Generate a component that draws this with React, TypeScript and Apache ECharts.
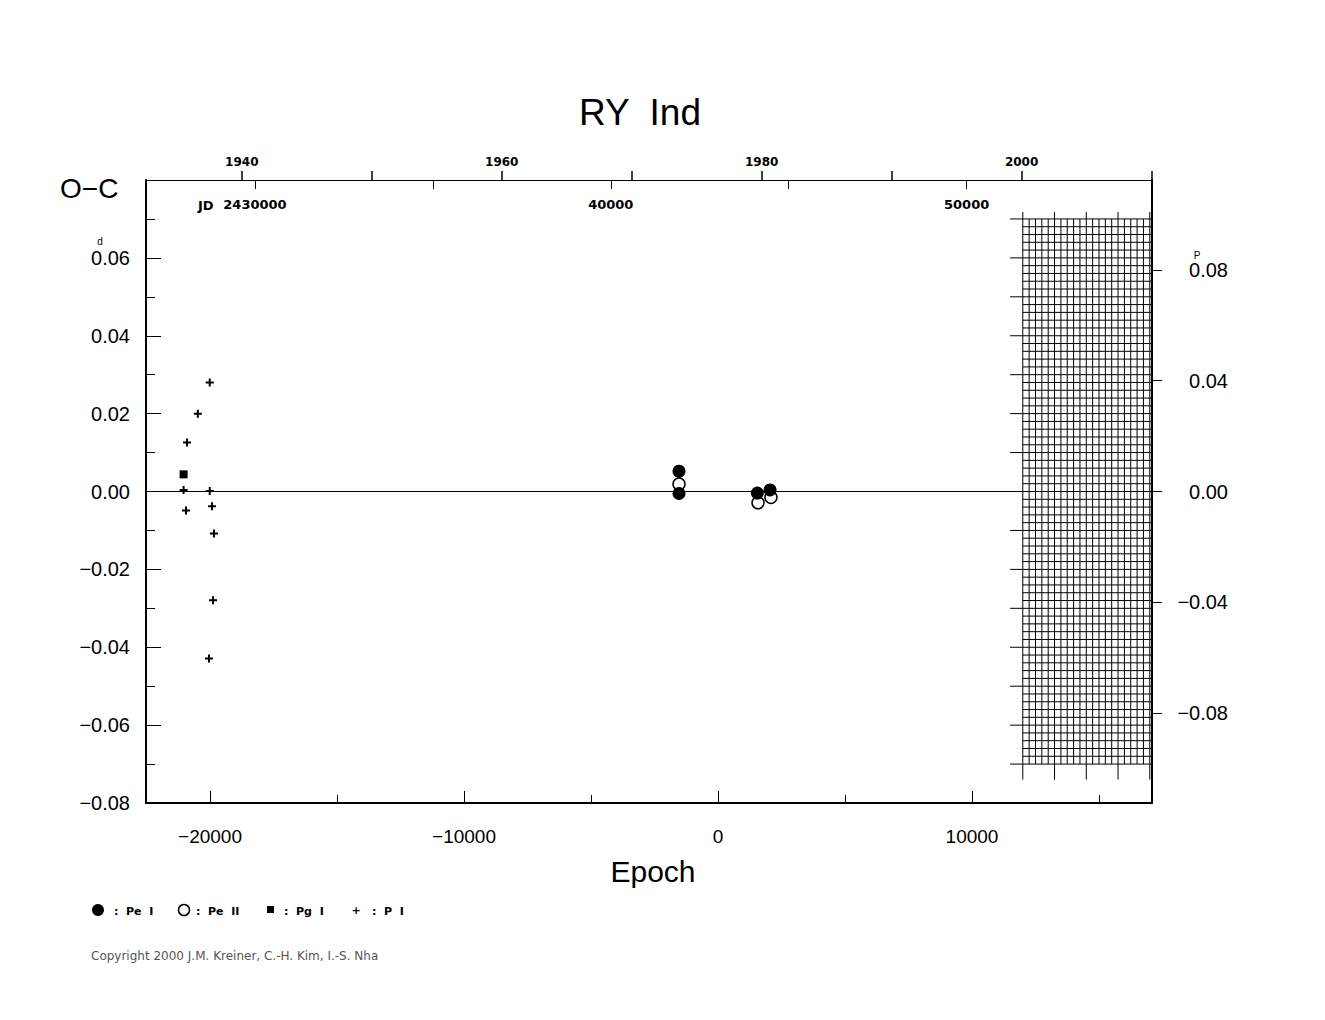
import React, { useEffect, useRef } from "react";
import * as echarts from "echarts";

// ---- axis ranges ----
const X_MIN = -22520;
const X_MAX = 17087;
const Y_MIN = -0.08;
const Y_MAX = 0.08;
const PHASE_MIN = -0.1124;
const PHASE_MAX = 0.1124;
const JD_MIN = 2426938;
const JD_MAX = 2455210;

// ---- ticks & labels ----
const EPOCH_MAJOR = [-20000, -10000, 0, 10000];
const EPOCH_MINOR = [-15000, -5000, 5000, 15000];
const OC_MAJOR = [-0.08, -0.06, -0.04, -0.02, 0, 0.02, 0.04, 0.06, 0.08];
const OC_LABELS = [-0.08, -0.06, -0.04, -0.02, 0, 0.02, 0.04, 0.06];
const OC_MINOR = [-0.07, -0.05, -0.03, -0.01, 0.01, 0.03, 0.05, 0.07];
const PHASE_TICKS = [-0.08, -0.04, 0, 0.04, 0.08];
const YEAR_TICKS = [1940, 1950, 1960, 1970, 1980, 1990, 2000, 2010];
const YEAR_LABELS = [1940, 1960, 1980, 2000];
const JD_TICKS = [2430000, 2435000, 2440000, 2445000, 2450000];
const JD_LABELS = [2430000, 2440000, 2450000];

// ---- data (epoch, O-C in days) ----
const PE_I = [
  [-1535, 0.0052],
  [-1535, -0.0005],
  [1550, -0.0004],
  [2050, 0.0004],
];
const PE_II = [
  [-1535, 0.0019],
  [1575, -0.0029],
  [2085, -0.0015],
];
const PG_I = [[-21040, 0.0044]];
const P_I = [
  [-20010, 0.028],
  [-20480, 0.02],
  [-20905, 0.0126],
  [-21040, 0.0004],
  [-20010, 0.0001],
  [-19920, -0.0038],
  [-20945, -0.0049],
  [-19845, -0.0108],
  [-19880, -0.0279],
  [-20040, -0.0429],
];
const ZERO_LINE = [
  [X_MIN, 0],
  [11500, 0],
];

// ---- hatched region (epoch / O-C) ----
const HATCH_X0 = 12000;
const HATCH_X1 = 17000;
const HATCH_DX = 250;
const HATCH_Y0 = -0.07;
const HATCH_Y1 = 0.07;
const HATCH_DY = 0.002;

const yearToJD = (y: number) => 2415020.5 + (y - 1900) * 365.25;
const jdToYear = (jd: number) => Math.round((jd - 2415020.5) / 365.25 + 1900);
const fmtSigned = (v: number, d: number) =>
  (v < -1e-9 ? "\u2212" : "") + Math.abs(v).toFixed(d);

const NUM_FONT = "Liberation Sans, Arial, sans-serif";
const BOLD_FONT = "DejaVu Sans, sans-serif";

export default function App() {
  const ref = useRef<HTMLDivElement>(null);
  useEffect(() => {
    if (!ref.current) return;
    const chart = echarts.init(ref.current, null, { renderer: "svg" });

    const hatchRender = (_params: any, api: any) => {
      const children: any[] = [];
      const nx = Math.round((HATCH_X1 - HATCH_X0) / HATCH_DX);
      const ny = Math.round((HATCH_Y1 - HATCH_Y0) / HATCH_DY);
      const ln = (a: number[], b: number[]) => ({
        type: "line",
        shape: { x1: a[0], y1: a[1], x2: b[0], y2: b[1] },
        style: { stroke: "#000", lineWidth: 1 },
      });
      for (let i = 0; i <= nx; i++) {
        const e = HATCH_X0 + i * HATCH_DX;
        const long = i % 5 === 0;
        const top = api.coord([e, HATCH_Y1 + (long ? 0.0018 : 0)]);
        const bot = api.coord([e, HATCH_Y0 - (long ? 0.004 : 0)]);
        children.push(ln(top, bot));
      }
      for (let j = 0; j <= ny; j++) {
        const v = HATCH_Y0 + j * HATCH_DY;
        const ext = j % 5 === 0;
        const l = api.coord([ext ? 11500 : HATCH_X0, v]);
        const r = api.coord([X_MAX, v]);
        children.push(ln(l, r));
      }
      return { type: "group", children };
    };

    const option: any = {
      animation: false,
      backgroundColor: "#fff",
      grid: {
        left: 146,
        top: 180,
        width: 1006,
        height: 623,
        containLabel: false,
        outerBoundsMode: "none",
      },
      xAxis: [
        {
          type: "value",
          position: "bottom",
          min: X_MIN,
          max: X_MAX,
          axisLine: { show: true, onZero: false, lineStyle: { color: "#000", width: 2 } },
          axisTick: {
            show: true,
            inside: true,
            length: 12,
            customValues: EPOCH_MAJOR,
            lineStyle: { color: "#000", width: 1 },
          },
          axisLabel: {
            show: true,
            customValues: EPOCH_MAJOR,
            formatter: (v: number) => fmtSigned(v, 0),
            margin: 24,
            color: "#000",
            fontSize: 19,
            fontFamily: NUM_FONT,
          },
          splitLine: { show: false },
        },
        {
          type: "value",
          position: "bottom",
          min: X_MIN,
          max: X_MAX,
          axisLine: { show: false, onZero: false },
          axisTick: {
            show: true,
            inside: true,
            length: 8,
            customValues: EPOCH_MINOR,
            lineStyle: { color: "#000", width: 1 },
          },
          axisLabel: { show: false },
          splitLine: { show: false },
        },
        {
          type: "value",
          position: "top",
          min: JD_MIN,
          max: JD_MAX,
          axisLine: { show: true, onZero: false, lineStyle: { color: "#000", width: 1 } },
          axisTick: {
            show: true,
            inside: false,
            length: 9,
            customValues: YEAR_TICKS.map(yearToJD),
            lineStyle: { color: "#000", width: 1.5 },
          },
          axisLabel: {
            show: true,
            customValues: YEAR_LABELS.map(yearToJD),
            formatter: (v: number) => String(jdToYear(v)),
            margin: 12,
            color: "#000",
            fontSize: 12,
            fontWeight: "bold",
            fontFamily: BOLD_FONT,
          },
          splitLine: { show: false },
        },
        {
          type: "value",
          position: "top",
          min: JD_MIN,
          max: JD_MAX,
          axisLine: { show: false, onZero: false },
          axisTick: {
            show: true,
            inside: true,
            length: 9,
            customValues: JD_TICKS,
            lineStyle: { color: "#000", width: 1 },
          },
          axisLabel: {
            show: true,
            inside: true,
            customValues: JD_LABELS,
            formatter: (v: number) => (v === 2430000 ? "2430000" : String(v - 2400000)),
            margin: 18,
            color: "#000",
            fontSize: 13,
            fontWeight: "bold",
            fontFamily: BOLD_FONT,
          },
          splitLine: { show: false },
        },
      ],
      yAxis: [
        {
          type: "value",
          position: "left",
          min: Y_MIN,
          max: Y_MAX,
          axisLine: { show: true, onZero: false, lineStyle: { color: "#000", width: 2 } },
          axisTick: {
            show: true,
            inside: true,
            length: 15,
            customValues: OC_MAJOR,
            lineStyle: { color: "#000", width: 1 },
          },
          axisLabel: {
            show: true,
            customValues: OC_LABELS,
            formatter: (v: number) => fmtSigned(v, 2),
            margin: 16,
            color: "#000",
            fontSize: 20,
            fontFamily: NUM_FONT,
          },
          splitLine: { show: false },
        },
        {
          type: "value",
          position: "left",
          min: Y_MIN,
          max: Y_MAX,
          axisLine: { show: false, onZero: false },
          axisTick: {
            show: true,
            inside: true,
            length: 9,
            customValues: OC_MINOR,
            lineStyle: { color: "#000", width: 1 },
          },
          axisLabel: { show: false },
          splitLine: { show: false },
        },
        {
          type: "value",
          position: "right",
          min: PHASE_MIN,
          max: PHASE_MAX,
          axisLine: { show: true, onZero: false, lineStyle: { color: "#000", width: 2 } },
          axisTick: {
            show: true,
            inside: false,
            length: 10,
            customValues: PHASE_TICKS,
            lineStyle: { color: "#000", width: 1 },
          },
          axisLabel: {
            show: true,
            customValues: PHASE_TICKS,
            formatter: (v: number) => fmtSigned(v, 2),
            margin: 76,
            align: "right",
            color: "#000",
            fontSize: 20,
            fontFamily: NUM_FONT,
          },
          splitLine: { show: false },
        },
      ],
      series: [
        {
          type: "custom",
          name: "hatch",
          xAxisIndex: 0,
          yAxisIndex: 0,
          data: [[HATCH_X0, HATCH_Y0]],
          renderItem: hatchRender,
          clip: false,
          silent: true,
          z: 1,
        },
        {
          type: "line",
          name: "zero",
          xAxisIndex: 0,
          yAxisIndex: 0,
          data: ZERO_LINE,
          symbol: "none",
          lineStyle: { color: "#000", width: 1 },
          silent: true,
          z: 2,
        },
        {
          type: "scatter",
          name: "Pe II",
          xAxisIndex: 0,
          yAxisIndex: 0,
          data: PE_II,
          symbol: "circle",
          symbolSize: 12,
          itemStyle: { color: "#fff", borderColor: "#000", borderWidth: 1.5, opacity: 1 },
          z: 3,
        },
        {
          type: "scatter",
          name: "Pe I",
          xAxisIndex: 0,
          yAxisIndex: 0,
          data: PE_I,
          symbol: "circle",
          symbolSize: 13,
          itemStyle: { color: "#000", opacity: 1 },
          z: 4,
        },
        {
          type: "scatter",
          name: "Pg I",
          xAxisIndex: 0,
          yAxisIndex: 0,
          data: PG_I,
          symbol: "rect",
          symbolSize: 8,
          itemStyle: { color: "#000", opacity: 1 },
          z: 4,
        },
        {
          type: "scatter",
          name: "P I",
          xAxisIndex: 0,
          yAxisIndex: 0,
          data: P_I,
          symbol: "path://M3,0H5V3H8V5H5V8H3V5H0V3H3Z",
          symbolSize: 8,
          itemStyle: { color: "#000", opacity: 1 },
          z: 5,
        },
      ],
      graphic: [
        {
          type: "text",
          x: 640,
          y: 112,
          style: {
            text: "RY  Ind",
            fill: "#000",
            font: "37px " + NUM_FONT,
            align: "center",
            verticalAlign: "middle",
          },
        },
        {
          type: "text",
          x: 60,
          y: 188,
          style: {
            text: "O\u2212C",
            fill: "#000",
            font: "28px " + NUM_FONT,
            align: "left",
            verticalAlign: "middle",
          },
        },
        {
          type: "text",
          x: 653,
          y: 871,
          style: {
            text: "Epoch",
            fill: "#000",
            font: "30px " + NUM_FONT,
            align: "center",
            verticalAlign: "middle",
          },
        },
        {
          type: "text",
          x: 198,
          y: 205,
          style: {
            text: "JD",
            fill: "#000",
            font: "bold 13px " + BOLD_FONT,
            align: "left",
            verticalAlign: "middle",
          },
        },
        {
          type: "text",
          x: 100,
          y: 241,
          style: {
            text: "d",
            fill: "#000",
            font: "10px " + NUM_FONT,
            align: "center",
            verticalAlign: "middle",
          },
        },
        {
          type: "text",
          x: 1197,
          y: 255,
          style: {
            text: "P",
            fill: "#000",
            font: "10px " + NUM_FONT,
            align: "center",
            verticalAlign: "middle",
          },
        },
        // legend
        { type: "circle", shape: { cx: 98, cy: 910, r: 6 }, style: { fill: "#000" } },
        {
          type: "text",
          x: 114,
          y: 911,
          style: { text: ":  Pe  I", fill: "#000", font: "bold 11px " + BOLD_FONT, verticalAlign: "middle" },
        },
        {
          type: "circle",
          shape: { cx: 184, cy: 910, r: 5.5 },
          style: { fill: "#fff", stroke: "#000", lineWidth: 1.5 },
        },
        {
          type: "text",
          x: 196,
          y: 911,
          style: { text: ":  Pe  II", fill: "#000", font: "bold 11px " + BOLD_FONT, verticalAlign: "middle" },
        },
        { type: "rect", shape: { x: 267, y: 906, width: 7, height: 7 }, style: { fill: "#000" } },
        {
          type: "text",
          x: 284,
          y: 911,
          style: { text: ":  Pg  I", fill: "#000", font: "bold 11px " + BOLD_FONT, verticalAlign: "middle" },
        },
        {
          type: "text",
          x: 356,
          y: 910,
          style: {
            text: "+",
            fill: "#000",
            font: "bold 11px " + BOLD_FONT,
            align: "center",
            verticalAlign: "middle",
          },
        },
        {
          type: "text",
          x: 372,
          y: 911,
          style: { text: ":  P  I", fill: "#000", font: "bold 11px " + BOLD_FONT, verticalAlign: "middle" },
        },
        {
          type: "text",
          x: 91,
          y: 956,
          style: {
            text: "Copyright 2000 J.M. Kreiner, C.-H. Kim, I.-S. Nha",
            fill: "#555",
            font: "12px " + BOLD_FONT,
            align: "left",
            verticalAlign: "middle",
          },
        },
      ],
    };
    chart.setOption(option);
    return () => chart.dispose();
  }, []);

  return (
    <div
      ref={ref}
      style={{ position: "absolute", left: 0, top: 0, width: 1325, height: 1020, background: "#fff" }}
    />
  );
}
